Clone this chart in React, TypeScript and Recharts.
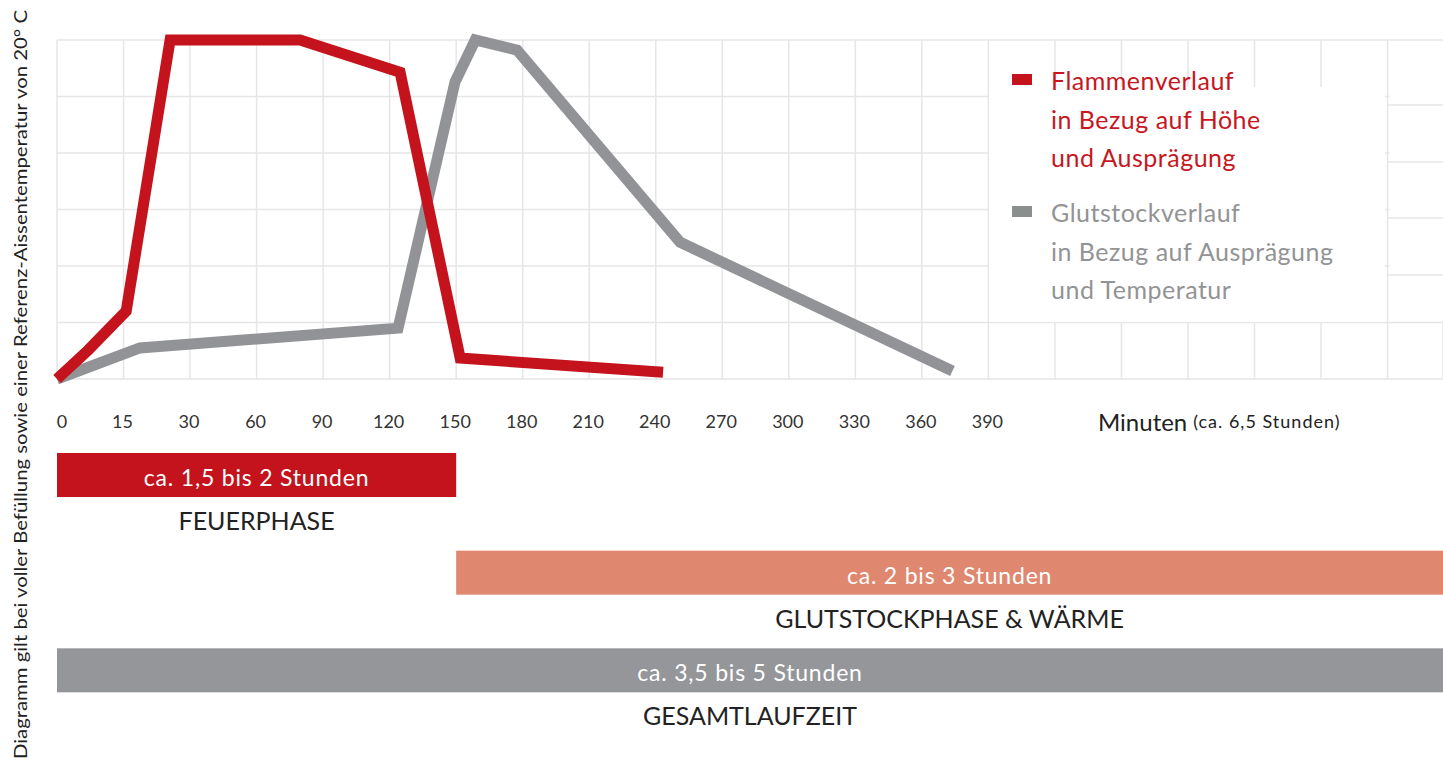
import React from 'react';
import {
  LineChart,
  Line,
  XAxis,
  YAxis,
  CartesianGrid,
  Legend,
  ReferenceArea,
  ReferenceLine,
  BarChart,
  Bar
} from 'recharts';

// Zeitachse (Minuten) – die Abstände sind nicht linear (0,15,30 dann 30er Schritte)
const tickMinutes = [0, 15, 30, 60, 90, 120, 150, 180, 210, 240, 270, 300, 330, 360, 390];
const extraGridMinutes = [420, 450, 480, 510, 540, 570];
const endMinutes = 595;

// Flammenverlauf
const flameMinutes = [0, 7, 15.6, 25.5, 79.6, 124.7, 151.8, 243.3];
const flameLevel = [0, 0.51, 1.2, 6, 6, 5.43, 0.37, 0.12];

// Glutstockverlauf
const glowMinutes = [0, 18.7, 123.8, 149.5, 158.6, 177.5, 251, 373.8];
const glowLevel = [0, 0.55, 0.9, 5.26, 6, 5.82, 2.42, 0.14];

const levelTicks = [0, 1, 2, 3, 4, 5, 6];
// rechter Randstreifen hat leicht versetzte Rasterlinien
const stripLevels = [1.84, 2.85, 3.84, 4.85];

// Phasen unten
const phaseNames = ['FEUERPHASE', 'GLUTSTOCKPHASE & WÄRME', 'GESAMTLAUFZEIT'];
const phaseDurations = ['ca. 1,5 bis 2 Stunden', 'ca. 2 bis 3 Stunden', 'ca. 3,5 bis 5 Stunden'];
const phaseStart = [0, 150, 0];
const phaseEnd = [150, endMinutes, endMinutes];

const legendLines = [
  ['Flammenverlauf', 'in Bezug auf Höhe', 'und Ausprägung'],
  ['Glutstockverlauf', 'in Bezug auf Ausprägung', 'und Temperatur']
];

const RED = '#C4131C';
const GREY = '#929396';
const SALMON = '#DF876F';
const BAR_GREY = '#959699';
const GRID = '#E6E6E6';
const FONT = 'Lato, "Noto Sans", sans-serif';

const phaseColors = [RED, SALMON, BAR_GREY];

// Minuten -> Position auf der (gleichmäßig geteilten) Achse
const toSlot = (m: number) => (m <= 30 ? m / 15 : 2 + (m - 30) / 30);
const endSlot = toSlot(endMinutes);

const flameData = flameMinutes.map((m, i) => ({ x: toSlot(m), y: flameLevel[i] }));
const glowData = glowMinutes.map((m, i) => ({ x: toSlot(m), y: glowLevel[i] }));
const gridTicks = [...tickMinutes, ...extraGridMinutes].map(toSlot);

const phaseData = phaseNames.map((name, i) => ({
  name,
  duration: phaseDurations[i],
  color: phaseColors[i],
  range: [toSlot(phaseStart[i]), toSlot(phaseEnd[i])]
}));

const MinuteTick = (props: any) => {
  const { x, y, index } = props;
  if (index >= tickMinutes.length) return null;
  return (
    <text
      x={index === 0 ? x + 5 : x - 1}
      y={y + 42}
      textAnchor="middle"
      dominantBaseline="central"
      fontSize={18}
      fontFamily={FONT}
      fill="#333"
    >
      {tickMinutes[index]}
    </text>
  );
};

const MinutesLabel = (props: any) => {
  const { viewBox } = props;
  return (
    <text x={1098} y={viewBox.y + 42} dominantBaseline="central" fontFamily={FONT} fill="#222">
      <tspan fontSize={24}>Minuten</tspan>
      <tspan fontSize={18} dx={6} letterSpacing={1}>(ca. 6,5 Stunden)</tspan>
    </text>
  );
};

const LegendBox = () => {
  const colors = [RED, '#8A8E8D'];
  const textColors = ['#C8161E', '#929395'];
  const tops = [-26, 106];
  return (
    <div style={{ position: 'relative', width: '100%', height: '100%' }}>
      {legendLines.map((lines, i) => (
        <div key={i} style={{ position: 'absolute', left: 0, top: tops[i] }}>
          <div
            style={{
              position: 'absolute',
              left: 23,
              top: 13,
              width: 20,
              height: 11,
              background: colors[i]
            }}
          />
          <div
            style={{
              position: 'absolute',
              left: 62,
              top: 0,
              fontFamily: FONT,
              fontSize: 25,
              letterSpacing: 0.5,
              lineHeight: '38.5px',
              color: textColors[i],
              whiteSpace: 'nowrap'
            }}
          >
            {lines.map((t) => (
              <div key={t}>{t}</div>
            ))}
          </div>
        </div>
      ))}
    </div>
  );
};

const PhaseShape = (props: any) => {
  const { x, y, width, height, payload } = props;
  const cx = x + width / 2;
  return (
    <g>
      <rect x={x} y={y} width={width} height={height} fill={payload.color} />
      <text
        x={cx}
        y={y + height / 2 + 2}
        textAnchor="middle"
        dominantBaseline="central"
        fontSize={23}
        letterSpacing={0.8}
        fontFamily={FONT}
        fill="#fff"
      >
        {payload.duration}
      </text>
      <text
        x={cx}
        y={y + height + 23}
        textAnchor="middle"
        dominantBaseline="central"
        fontSize={25}
        fontFamily={FONT}
        fill="#222"
      >
        {payload.name}
      </text>
    </g>
  );
};

export default function App() {
  return (
    <div
      style={{
        position: 'absolute',
        left: 0,
        top: 0,
        width: 1443,
        height: 761,
        overflow: 'hidden',
        background: '#fff',
        fontFamily: FONT
      }}
    >
      <div style={{ position: 'absolute', left: 0, top: 0 }}>
        <LineChart width={1443} height={440} margin={{ top: 40, right: 0, bottom: 0, left: 57 }}>
          <CartesianGrid stroke={GRID} strokeWidth={1.5} />
          <XAxis
            type="number"
            dataKey="x"
            domain={[0, endSlot]}
            ticks={gridTicks}
            interval={0}
            height={61}
            axisLine={false}
            tickLine={false}
            tickSize={0}
            tickMargin={0}
            tick={<MinuteTick />}
            label={<MinutesLabel />}
          />
          <YAxis type="number" domain={[0, 6]} ticks={levelTicks} hide />
          <ReferenceArea
            x1={20.03}
            x2={endSlot}
            y1={1.03}
            y2={5.97}
            fill="#fff"
            fillOpacity={1}
            stroke="none"
          />
          {stripLevels.map((lvl) => (
            <ReferenceLine
              key={lvl}
              segment={[
                { x: 20, y: lvl },
                { x: endSlot, y: lvl }
              ]}
              stroke={GRID}
              strokeWidth={1.5}
            />
          ))}
          <Line
            data={glowData}
            dataKey="y"
            type="linear"
            stroke={GREY}
            strokeWidth={11}
            strokeLinejoin="miter"
            strokeLinecap="butt"
            dot={false}
            activeDot={false}
            isAnimationActive={false}
            name="Glutstockverlauf"
          />
          <Line
            data={flameData}
            dataKey="y"
            type="linear"
            stroke={RED}
            strokeWidth={11}
            strokeLinejoin="miter"
            strokeLinecap="butt"
            dot={false}
            activeDot={false}
            isAnimationActive={false}
            name="Flammenverlauf"
          />
          <Legend
            layout="horizontal"
            align="center"
            verticalAlign="middle"
            content={<LegendBox />}
            wrapperStyle={{ left: 989, top: 87, width: 396, height: 235, background: '#fff' }}
          />
        </LineChart>
      </div>

      <div style={{ position: 'absolute', left: 0, top: 426 }}>
        <BarChart
          width={1443}
          height={335}
          layout="vertical"
          data={phaseData}
          margin={{ top: 0, right: 0, bottom: 42, left: 57 }}
        >
          <XAxis type="number" domain={[0, endSlot]} hide />
          <YAxis type="category" dataKey="name" hide />
          <Bar dataKey="range" barSize={44} shape={PhaseShape} isAnimationActive={false} />
        </BarChart>
      </div>

      <svg
        width={40}
        height={761}
        style={{ position: 'absolute', left: 0, top: 0, overflow: 'visible' }}
      >
        <text
          transform="rotate(-90)"
          x={-759}
          y={20}
          dominantBaseline="central"
          fontSize={18}
          fontFamily={FONT}
          fill="#222"
          textLength={749}
          lengthAdjust="spacingAndGlyphs"
        >
          Diagramm gilt bei voller Befüllung sowie einer Referenz-Aissentemperatur von 20° C
        </text>
      </svg>
    </div>
  );
}
